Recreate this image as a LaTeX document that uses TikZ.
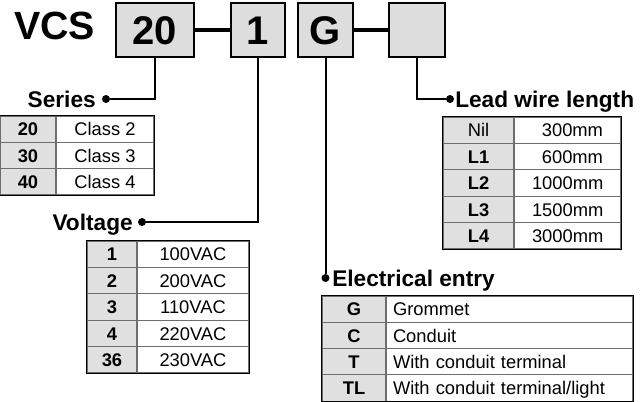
\documentclass[tikz,border=0pt]{standalone}
\usepackage{fontspec}
\setmainfont{Liberation Sans}
\definecolor{boxgray}{HTML}{DDDDDD}
\definecolor{cellgray}{HTML}{E0E0E0}
\definecolor{gridgray}{HTML}{6E6E6E}
\begin{document}
\begin{tikzpicture}[x=0.75pt,y=-0.75pt,
  codebox/.style={draw=black, line width=2pt, fill=boxgray, minimum height=40.5pt,
    inner sep=0pt, text height=21.5pt, text depth=0pt, font=\fontsize{30}{30}\selectfont\bfseries},
  link/.style={line width=2.4pt},
  leader/.style={line width=1.5pt},
  dotmark/.style={circle, fill=black, inner sep=0pt, minimum size=6pt},
  lbl/.style={font=\fontsize{17}{20}\selectfont\bfseries, inner sep=0pt, text height=12.2pt, text depth=0pt},
  kcell/.style={draw=gridgray, line width=0.8pt, fill=cellgray, inner sep=0pt,
    text height=9.9pt, text depth=0pt, font=\fontsize{13.75}{16}\selectfont\bfseries},
  vcell/.style={draw=gridgray, line width=0.8pt, fill=white, inner sep=0pt,
    text height=9.9pt, text depth=0pt, font=\fontsize{13.75}{16}\selectfont},
  frame/.style={draw=black, line width=1.2pt}
]
\useasboundingbox (0,0) rectangle (644,401);

% title and code boxes
\node[anchor=west, inner sep=0pt, text height=21pt, text depth=0pt,
  font=\fontsize{29.5}{30}\selectfont\bfseries] (vcs) at (14,25.5) {VCS};
\node[codebox, minimum width=58.5pt] (b1) at (155,30) {20};
\node[codebox, minimum width=40.5pt] (b2) at (258,30) {1};
\node[codebox, minimum width=41.25pt] (b3) at (325.5,30) {G};
\node[codebox, minimum width=42pt] (b4) at (417,30) {};
\draw[link] (b1.east) -- (b2.west);
\draw[link] (b3.east) -- (b4.west);

% dots and labels
\node[dotmark] (sdot) at (106,99) {};
\node[dotmark] (vdot) at (142,222) {};
\node[dotmark] (edot) at (325.5,278) {};
\node[dotmark] (ldot) at (450,99) {};
\node[lbl, anchor=east] (slbl) at (96,99) {Series};
\node[lbl, anchor=east] (vlbl) at (133,222) {Voltage};
\node[lbl, anchor=west] (elbl) at (332,278) {Electrical entry};
\node[lbl, anchor=west] (llbl) at (455,99) {Lead wire length};
\draw[leader] (b1.south) |- (sdot);
\draw[leader] (b2.south) |- (vdot);
\draw[leader] (b3.south) -- (edot);
\draw[leader] (b4.south) |- (ldot);

% Series table
\foreach \k/\v [count=\i] in {20/Class 2, 30/Class 3, 40/Class 4} {
  \node[kcell, minimum width=42pt, minimum height=19.75pt] (sk\i) at (28,{116+26.33*(\i-0.5)}) {\k};
  \node[vcell, minimum width=73.5pt, minimum height=19.75pt] (sv\i) at (105,{116+26.33*(\i-0.5)}) {\v};
}
\draw[frame] (sk1.north west) rectangle (sv3.south east);

% Voltage table
\foreach \k/\v [count=\i] in {1/100VAC, 2/200VAC, 3/110VAC, 4/220VAC, 36/230VAC} {
  \node[kcell, minimum width=37.5pt, minimum height=19.8pt] (vk\i) at (112,{241+26.4*(\i-0.5)}) {\k};
  \node[vcell, minimum width=84pt, minimum height=19.8pt] (vv\i) at (193,{241+26.4*(\i-0.5)}) {\v};
}
\draw[frame] (vk1.north west) rectangle (vv5.south east);

% Lead wire length table
\foreach \k/\v [count=\i] in {{\mdseries Nil}/300mm, L1/600mm, L2/1000mm, L3/1500mm, L4/3000mm} {
  \node[kcell, minimum width=53.25pt, minimum height=19.8pt] (lk\i) at (478.5,{117+26.4*(\i-0.5)}) {\k};
  \node[vcell, minimum width=80.25pt, minimum height=19.8pt, inner xsep=13.5pt,
    text width=53.25pt, align=right] (lv\i) at (567.5,{117+26.4*(\i-0.5)}) {\v};
}
\draw[frame] (lk1.north west) rectangle (lv5.south east);

% Electrical entry table
\foreach \k/\v [count=\i] in {G/Grommet, C/Conduit, T/With conduit terminal, TL/With conduit terminal\slash light} {
  \node[kcell, minimum width=48pt, minimum height=19.7pt] (ek\i) at (354,{296+26.3*(\i-0.5)}) {\k};
  \node[vcell, minimum width=185.25pt, minimum height=19.7pt, inner xsep=5.25pt,
    text width=174.75pt, align=left] (ev\i) at (509.5,{296+26.3*(\i-0.5)}) {\v};
}
\draw[frame] (ek1.north west) rectangle (ev4.south east);
\end{tikzpicture}
\end{document}
